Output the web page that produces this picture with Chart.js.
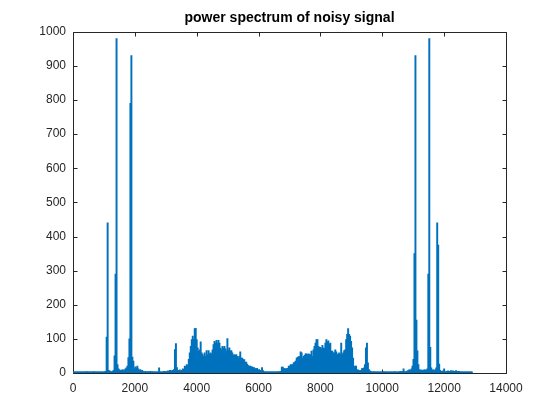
<!DOCTYPE html>
<html>
<head>
<meta charset="utf-8">
<script src="https://cdn.jsdelivr.net/npm/chart.js@4.4.1/dist/chart.umd.min.js"></script>
<style>
  html, body { margin: 0; padding: 0; background: #fff; }
  #wrap { width: 560px; height: 420px; }
</style>
</head>
<body>
<div id="wrap"><canvas id="spectrum" width="560" height="420"></canvas></div>
<script>
// spectrum: peak power in each bin of 32 frequency units
var binStep = 32;
var chartTitle = 'power spectrum of noisy signal';
var xTicks = [0, 2000, 4000, 6000, 8000, 10000, 12000, 14000];
var yTicks = [0, 100, 200, 300, 400, 500, 600, 700, 800, 900, 1000];

// 0 .. 3168
var lowFreqPower = [
    1, 2, 1, 1, 2, 1, 1, 3, 1, 2,
    1, 1, 2, 1, 4, 1, 2, 1, 1, 3,
    1, 4, 2, 1, 1, 2, 1, 1, 2, 1,
    2, 3, 4, 5, 105, 440, 8, 6, 4, 3,
    5, 8, 50, 290, 980, 25, 12, 9, 7, 8,
    10, 7, 9, 12, 15, 20, 45, 100, 790, 930,
    47, 35, 12, 18, 15, 20, 12, 8, 10, 6,
    8, 4, 3, 5, 2, 3, 4, 2, 5, 3,
    4, 3, 2, 3, 2, 3, 2, 15, 3, 2,
    3, 2, 5, 3, 4, 4, 6, 5, 8, 6
];
// 3200 .. 6368
var leftBandPower = [
    6, 8, 10, 69, 86, 16, 8, 6, 9, 5,
    8, 12, 10, 20, 18, 25, 22, 40, 59, 78,
    98, 108, 98, 130, 131, 98, 74, 64, 68, 91,
    59, 54, 49, 59, 49, 66, 54, 66, 56, 59,
    56, 68, 83, 93, 88, 96, 88, 96, 88, 73,
    68, 78, 73, 78, 71, 64, 101, 68, 74, 64,
    66, 59, 52, 54, 52, 54, 49, 44, 49, 62,
    44, 44, 39, 39, 32, 32, 26, 22, 20, 20,
    18, 18, 16, 16, 13, 12, 14, 9, 9, 8,
    7, 16, 7, 4, 3, 2, 3, 1, 2, 1
];
// 6400 .. 9568
var rightBandPower = [
    2, 1, 3, 2, 1, 3, 2, 2, 4, 3,
    5, 17, 17, 13, 13, 12, 13, 14, 20, 20,
    25, 24, 25, 30, 32, 35, 44, 46, 48, 48,
    62, 59, 44, 49, 52, 56, 56, 54, 56, 54,
    54, 64, 49, 68, 78, 88, 98, 98, 78, 75,
    75, 71, 81, 73, 73, 88, 98, 91, 94, 85,
    88, 64, 64, 59, 59, 68, 62, 54, 56, 59,
    54, 88, 54, 59, 66, 68, 98, 113, 130, 113,
    108, 93, 74, 44, 18, 20, 20, 9, 9, 7,
    7, 7, 13, 13, 15, 25, 74, 88, 30, 10
];
// 9600 .. 12928
var highFreqPower = [
    6, 5, 3, 2, 4, 2, 1, 3, 2, 1,
    2, 3, 1, 2, 4, 1, 2, 3, 1, 2,
    1, 3, 2, 1, 2, 4, 2, 1, 3, 2,
    4, 5, 3, 5, 12, 4, 3, 5, 6, 8,
    10, 7, 12, 20, 40, 350, 930, 155, 65, 25,
    10, 8, 9, 7, 8, 10, 8, 9, 12, 290,
    980, 75, 15, 8, 10, 7, 9, 15, 440, 375,
    26, 8, 5, 4, 6, 12, 4, 3, 5, 6,
    5, 4, 7, 5, 6, 4, 5, 7, 5, 4,
    5, 3, 2, 3, 2, 1, 2, 1, 2, 1,
    2, 1, 1, 1
];

var power = lowFreqPower.concat(leftBandPower, rightBandPower, highFreqPower);
var points = power.map(function(v, i) { return { x: i * binStep, y: v }; });

var fontFamily = '"Liberation Sans", Arial, Helvetica, sans-serif';
var axisColor = '#262626';

// MATLAB style box with inward ticks on every side, drawn under the data
var boxPlugin = {
    id: 'matlabBox',
    beforeDatasetsDraw: function(chart) {
        var ctx = chart.ctx;
        var a = chart.chartArea;
        var xs = chart.scales.x, ys = chart.scales.y;
        var l = Math.round(a.left) + 0.5, r = Math.round(a.right) + 0.5;
        var t = Math.round(a.top) + 0.5, b = Math.round(a.bottom) + 0.5;
        ctx.save();
        ctx.strokeStyle = axisColor;
        ctx.lineWidth = 1;
        ctx.beginPath();
        ctx.rect(l, t, r - l, b - t);
        xTicks.forEach(function(v) {
            var p = Math.round(xs.getPixelForValue(v)) + 0.5;
            ctx.moveTo(p, b); ctx.lineTo(p, b - 4);
            ctx.moveTo(p, t); ctx.lineTo(p, t + 4);
        });
        yTicks.forEach(function(v) {
            var p = Math.round(ys.getPixelForValue(v)) + 0.5;
            ctx.moveTo(l, p); ctx.lineTo(l + 4, p);
            ctx.moveTo(r, p); ctx.lineTo(r - 4, p);
        });
        ctx.stroke();
        ctx.restore();
    }
};

var ctx = document.getElementById('spectrum').getContext('2d');
var myChart = new Chart(ctx, {
    type: 'bar',
    data: {
        datasets: [{
            data: points,
            backgroundColor: '#0072BD',
            borderWidth: 0,
            barThickness: 1.3,
            minBarLength: 1.2,
            grouped: false
        }]
    },
    options: {
        responsive: false,
        animation: false,
        events: [],
        layout: { padding: { left: 0, right: 54, top: 0, bottom: 0 } },
        plugins: {
            legend: { display: false },
            tooltip: { enabled: false },
            title: {
                display: true,
                text: chartTitle,
                fullSize: false,
                color: '#000',
                font: { family: fontFamily, size: 14, weight: 'bold', lineHeight: 1.2 },
                padding: { top: 10, bottom: 5 }
            }
        },
        scales: {
            x: {
                type: 'linear',
                min: 0,
                max: 14000,
                offset: false,
                grid: { display: false, drawTicks: false, offset: false },
                border: { display: false },
                afterBuildTicks: function(s) { s.ticks = xTicks.map(function(v) { return { value: v }; }); },
                afterFit: function(s) { s.height = 47; },
                ticks: {
                    color: axisColor,
                    padding: 8,
                    maxRotation: 0,
                    font: { family: fontFamily, size: 12 },
                    callback: function(v) { return String(v); }
                }
            },
            y: {
                min: 0,
                max: 1000,
                grid: { display: false, drawTicks: false },
                border: { display: false },
                afterBuildTicks: function(s) { s.ticks = yTicks.map(function(v) { return { value: v }; }); },
                afterFit: function(s) { s.width = 73; },
                ticks: {
                    color: axisColor,
                    padding: 7,
                    font: { family: fontFamily, size: 12 },
                    callback: function(v) { return String(v); }
                }
            }
        }
    },
    plugins: [boxPlugin]
});
</script>
</body>
</html>
